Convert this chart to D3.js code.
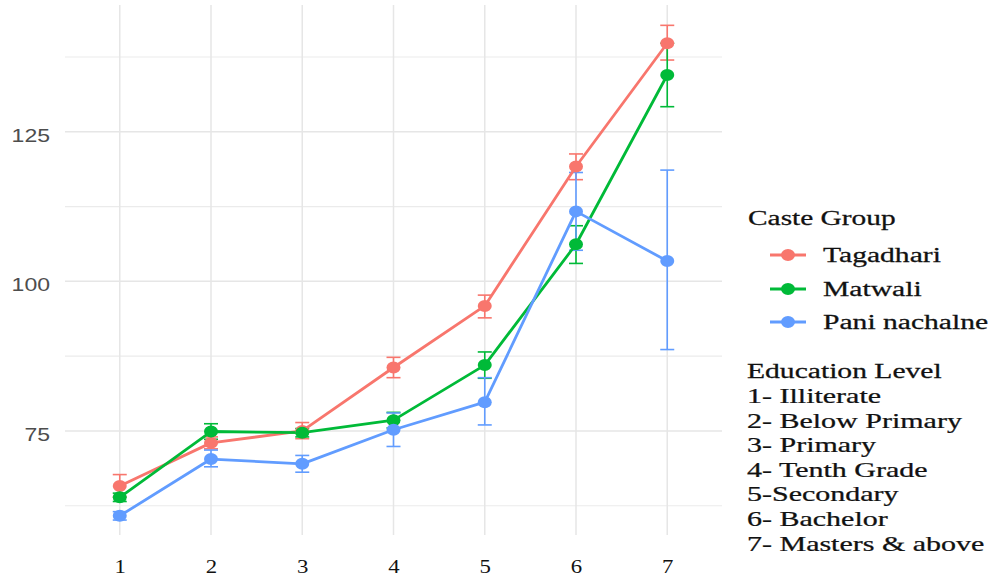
<!DOCTYPE html>
<html>
<head>
<meta charset="utf-8">
<script src="https://cdn.jsdelivr.net/npm/d3@7"></script>
<style>
  html, body { margin: 0; padding: 0; background: #fff; }
  svg { display: block; }
</style>
</head>
<body>
<svg id="chart" width="993" height="581"></svg>
<script>
// Education levels on the x axis
const levels = ["1", "2", "3", "4", "5", "6", "7"];
const levelNames = [
  "1- Illiterate",
  "2- Below Primary",
  "3- Primary",
  "4- Tenth Grade",
  "5-Secondary",
  "6- Bachelor",
  "7- Masters & above"
];

// Caste groups
const groups = ["Tagadhari", "Matwali", "Pani nachalne"];
const groupColors = ["#F8766D", "#00BA38", "#619CFF"];

// Mean values per group and level
const tagadhariMean = [65.8, 73.0, 75.0, 85.6, 95.9, 119.2, 139.8];
const matwaliMean   = [63.9, 74.9, 74.7, 76.8, 86.0, 106.2, 134.5];
const paniMean      = [60.8, 70.3, 69.5, 75.2, 79.8, 111.7, 103.4];

// Error bar bounds
const tagadhariLow  = [64.0, 72.0, 73.7, 83.9, 93.9, 117.0, 137.0];
const tagadhariHigh = [67.7, 74.0, 76.4, 87.3, 97.7, 121.3, 142.8];
const matwaliLow    = [63.2, 73.6, 74.0, 75.5, 83.8, 103.0, 129.2];
const matwaliHigh   = [64.6, 76.2, 75.4, 78.1, 88.2, 109.3, 139.8];
const paniLow       = [60.1, 69.0, 68.1, 72.4, 76.0, 105.2, 88.6];
const paniHigh      = [61.5, 71.8, 70.9, 78.0, 83.9, 118.2, 118.6];

// Y axis ticks
const yMajor = [75, 100, 125];
const yMinor = [62.5, 87.5, 112.5, 137.5];

const means = [tagadhariMean, matwaliMean, paniMean];
const lows = [tagadhariLow, matwaliLow, paniLow];
const highs = [tagadhariHigh, matwaliHigh, paniHigh];

const series = groups.map((g, gi) => ({
  name: g,
  color: groupColors[gi],
  values: levels.map((lv, i) => ({ level: lv, mean: means[gi][i], low: lows[gi][i], high: highs[gi][i] }))
}));

const svg = d3.select("#chart");

const panel = { left: 65, right: 722, top: 5, bottom: 535 };

const x = d3.scalePoint()
  .domain(levels)
  .range([panel.left, panel.right])
  .padding(0.6);

const y = d3.scaleLinear()
  .domain([57.6, 146.2])
  .range([panel.bottom, panel.top]);

// Grid
const grid = svg.append("g");
grid.selectAll("line.minor").data(yMinor).join("line")
  .attr("x1", panel.left).attr("x2", panel.right)
  .attr("y1", d => y(d)).attr("y2", d => y(d))
  .attr("stroke", "#ebebeb").attr("stroke-width", 1.1);
grid.selectAll("line.major").data(yMajor).join("line")
  .attr("x1", panel.left).attr("x2", panel.right)
  .attr("y1", d => y(d)).attr("y2", d => y(d))
  .attr("stroke", "#e6e6e6").attr("stroke-width", 1.5);
grid.selectAll("line.vx").data(levels).join("line")
  .attr("x1", d => x(d)).attr("x2", d => x(d))
  .attr("y1", panel.top).attr("y2", panel.bottom)
  .attr("stroke", "#e6e6e6").attr("stroke-width", 1.5);

// Y axis labels, stretched horizontally like the rest of the text
const yAxis = d3.axisLeft(y).tickValues(yMajor).tickSize(0).tickPadding(0);
const yg = svg.append("g").attr("transform", "translate(50,0)").call(yAxis);
yg.select(".domain").remove();
yg.selectAll("text")
  .attr("x", 0).attr("dy", null).attr("dominant-baseline", "central")
  .attr("transform", "translate(0,3) scale(1.28,1)")
  .attr("fill", "#4d4d4d")
  .style("font-family", "'Liberation Sans', Arial, sans-serif")
  .style("font-size", "18px");

// X axis labels
const xAxis = d3.axisBottom(x).tickSize(0).tickPadding(0);
const xg = svg.append("g").attr("transform", "translate(0,560)").call(xAxis);
xg.select(".domain").remove();
xg.selectAll("text")
  .attr("y", 0).attr("dy", null).attr("dominant-baseline", "central")
  .attr("transform", "translate(0,7) scale(1.2,1)")
  .attr("fill", "#111")
  .style("font-family", "'Liberation Serif', 'Times New Roman', serif")
  .style("font-size", "19px");

// Error bars
const whisker = 7;
const eb = svg.append("g");
series.forEach(s => {
  const g = eb.append("g").attr("stroke", s.color).attr("stroke-width", 1.6).attr("fill", "none");
  g.selectAll("line.v").data(s.values).join("line")
    .attr("x1", d => x(d.level)).attr("x2", d => x(d.level))
    .attr("y1", d => y(d.low)).attr("y2", d => y(d.high));
  g.selectAll("line.t").data(s.values).join("line")
    .attr("x1", d => x(d.level) - whisker).attr("x2", d => x(d.level) + whisker)
    .attr("y1", d => y(d.high)).attr("y2", d => y(d.high));
  g.selectAll("line.b").data(s.values).join("line")
    .attr("x1", d => x(d.level) - whisker).attr("x2", d => x(d.level) + whisker)
    .attr("y1", d => y(d.low)).attr("y2", d => y(d.low));
});

// Lines
const line = d3.line().x(d => x(d.level)).y(d => y(d.mean));
const lg = svg.append("g");
series.forEach(s => {
  lg.append("path").datum(s.values)
    .attr("d", line)
    .attr("fill", "none")
    .attr("stroke", s.color)
    .attr("stroke-width", 2.8)
    .attr("stroke-linejoin", "round");
});

// Points
const pg = svg.append("g");
series.forEach(s => {
  pg.selectAll(null).data(s.values).join("ellipse")
    .attr("cx", d => x(d.level)).attr("cy", d => y(d.mean))
    .attr("rx", 7).attr("ry", 6)
    .attr("fill", s.color);
});

// Legend: caste groups
const serif = "'Liberation Serif', 'Times New Roman', serif";
const legend = svg.append("g");
function stretchedText(parent, tx, ty, str, size, sx) {
  return parent.append("text")
    .attr("transform", `translate(${tx},${ty}) scale(${sx},1)`)
    .attr("fill", "#111")
    .attr("stroke", "#111")
    .attr("stroke-width", 0.25)
    .style("font-family", serif)
    .style("font-size", size + "px")
    .text(str);
}
stretchedText(legend, 748, 225, "Caste Group", 20, 1.47);
const keyRows = [255, 289, 322];
series.forEach((s, i) => {
  const cy = keyRows[i];
  legend.append("line")
    .attr("x1", 770).attr("x2", 806).attr("y1", cy).attr("y2", cy)
    .attr("stroke", s.color).attr("stroke-width", 2.8);
  legend.append("ellipse")
    .attr("cx", 788).attr("cy", cy).attr("rx", 7).attr("ry", 6)
    .attr("fill", s.color);
  stretchedText(legend, 823, cy + 7, s.name, 20, 1.48);
});

// Legend: education levels
const edu = svg.append("g");
stretchedText(edu, 747, 378, "Education Level", 20, 1.48);
levelNames.forEach((t, i) => {
  stretchedText(edu, 747, 403 + i * 24.6, t, 20, 1.5);
});
</script>
</body>
</html>
